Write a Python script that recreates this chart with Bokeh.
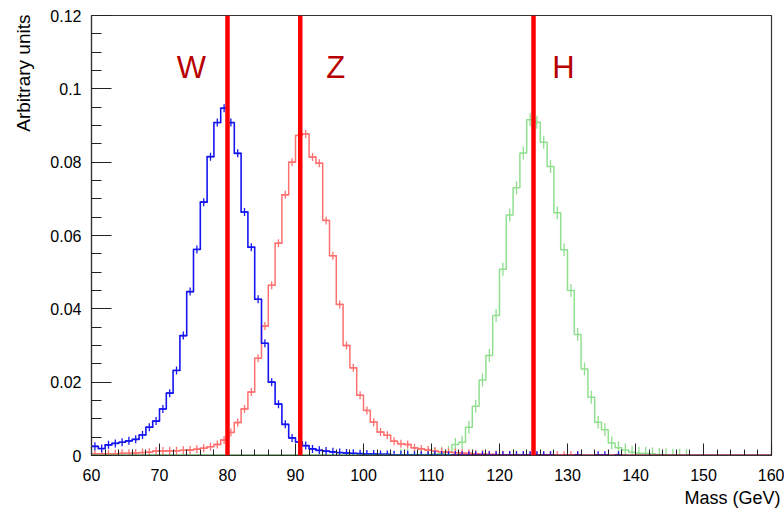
import math
from bokeh.plotting import figure
from bokeh.models import Range1d, FixedTicker, Span, Title
from bokeh.core.properties import value
from bokeh.embed import file_html
from bokeh.resources import INLINE

# ---------------- data ----------------
bin_edges = list(range(60, 161, 1))          # 1 GeV bins, 60..160

w_vals = [
    0.0025, 0.0019, 0.0029, 0.0033, 0.0036, 0.0040, 0.0044, 0.0056, 0.0077, 0.0094,  # 60-69
    0.0127, 0.0170, 0.0232, 0.0327, 0.0447, 0.0562, 0.0691, 0.0815, 0.0908, 0.0947,  # 70-79
    0.0908, 0.0824, 0.0664, 0.0568, 0.0426, 0.0306, 0.0200, 0.0140, 0.0085, 0.0048,  # 80-89
    0.0037, 0.0027, 0.0018, 0.0014, 0.0012, 0.0010, 0.0008, 0.0007, 0.0006, 0.0005,  # 90-99
    0.0004, 0.0004, 0.0003, 0.0003, 0.0002, 0.0002, 0.0002, 0.0001, 0.0001, 0.0001,  # 100-109
    0.0002, 0.0001, 0.0001, 0.0001, 0.0001, 0.0001, 0.0001, 0.0001, 0.0001, 0.0001,  # 110-119
    0.0001, 0.0001, 0.0001, 0.0001, 0.0001, 0.0001, 0.0001, 0.0001, 0.0000, 0.0000,  # 120-129
    0.0000, 0.0001, 0.0000, 0.0000, 0.0001, 0.0001, 0.0000, 0.0001, 0.0000, 0.0000,  # 130-139
    0.0000, 0.0000, 0.0000, 0.0000, 0.0000, 0.0000, 0.0000, 0.0000, 0.0000, 0.0000,  # 140-149
    0.0000, 0.0000, 0.0000, 0.0000, 0.0000, 0.0000, 0.0000, 0.0000, 0.0000, 0.0000,  # 150-159
]

z_vals = [
    0.0005, 0.0005, 0.0005, 0.0005, 0.0006, 0.0006, 0.0007, 0.0008, 0.0009, 0.0012,  # 60-69
    0.0012, 0.0013, 0.0013, 0.0014, 0.0015, 0.0017, 0.0020, 0.0024, 0.0030, 0.0042,  # 70-79
    0.0063, 0.0090, 0.0127, 0.0173, 0.0265, 0.0353, 0.0464, 0.0579, 0.0711, 0.0800,  # 80-89
    0.0873, 0.0877, 0.0814, 0.0797, 0.0641, 0.0545, 0.0412, 0.0300, 0.0239, 0.0164,  # 90-99
    0.0123, 0.0091, 0.0064, 0.0055, 0.0039, 0.0032, 0.0030, 0.0021, 0.0018, 0.0015,  # 100-109
    0.0012, 0.0010, 0.0009, 0.0008, 0.0007, 0.0006, 0.0005, 0.0004, 0.0003, 0.0003,  # 110-119
    0.0002, 0.0002, 0.0002, 0.0001, 0.0001, 0.0001, 0.0001, 0.0001, 0.0001, 0.0001,  # 120-129
    0.0001, 0.0001, 0.0000, 0.0000, 0.0000, 0.0000, 0.0000, 0.0000, 0.0000, 0.0000,  # 130-139
    0.0000, 0.0000, 0.0000, 0.0000, 0.0000, 0.0000, 0.0000, 0.0000, 0.0000, 0.0000,  # 140-149
    0.0000, 0.0000, 0.0000, 0.0000, 0.0000, 0.0000, 0.0000, 0.0000, 0.0000, 0.0000,  # 150-159
]

h_vals = [
    0.0000, 0.0000, 0.0000, 0.0000, 0.0000, 0.0000, 0.0000, 0.0000, 0.0000, 0.0000,  # 60-69
    0.0000, 0.0000, 0.0000, 0.0000, 0.0000, 0.0000, 0.0000, 0.0000, 0.0000, 0.0000,  # 70-79
    0.0000, 0.0000, 0.0000, 0.0000, 0.0000, 0.0000, 0.0000, 0.0000, 0.0000, 0.0000,  # 80-89
    0.0000, 0.0000, 0.0000, 0.0000, 0.0000, 0.0000, 0.0000, 0.0000, 0.0000, 0.0000,  # 90-99
    0.0000, 0.0000, 0.0000, 0.0000, 0.0000, 0.0001, 0.0001, 0.0002, 0.0002, 0.0003,  # 100-109
    0.0004, 0.0006, 0.0009, 0.0030, 0.0036, 0.0077, 0.0134, 0.0206, 0.0273, 0.0382,  # 110-119
    0.0508, 0.0656, 0.0730, 0.0825, 0.0916, 0.0909, 0.0854, 0.0788, 0.0662, 0.0561,  # 120-129
    0.0450, 0.0330, 0.0236, 0.0159, 0.0091, 0.0070, 0.0034, 0.0021, 0.0015, 0.0009,  # 130-139
    0.0006, 0.0006, 0.0005, 0.0003, 0.0002, 0.0001, 0.0001, 0.0001, 0.0000, 0.0000,  # 140-149
    0.0000, 0.0000, 0.0000, 0.0000, 0.0000, 0.0000, 0.0000, 0.0000, 0.0000, 0.0000,  # 150-159
]

# empty (zero) histograms lying on the axis
bkg_green_edges = [60, 113]
bkg_red_edges = [113, 160]
bkg_level = [0.0, 0.0]

masses = [80.0, 90.7, 125.0]
mass_names = ["W", "Z", "H"]

x_ticks = [60, 70, 80, 90, 100, 110, 120, 130, 140, 150, 160]
x_tick_labels = ["60", "70", "80", "90", "100", "110", "120", "130", "140", "150", "160"]
y_ticks = [0, 0.02, 0.04, 0.06, 0.08, 0.1, 0.12]
y_tick_labels = ["0", "0.02", "0.04", "0.06", "0.08", "0.1", "0.12"]

x_title = "Mass (GeV)"
y_title = "Arbitrary units"

# ---------------- layout / style ----------------
FONT = "Liberation Sans"
name_x = [74.7, 95.9, 129.4]
name_y = 0.1058

p = figure(width=784, height=509,
           x_range=Range1d(60, 160), y_range=Range1d(0, 0.12),
           output_backend="svg", toolbar_location=None,
           min_border_left=91, min_border_right=13,
           min_border_top=15, min_border_bottom=54)
p.xgrid.visible = False
p.ygrid.visible = False
p.background_fill_color = "white"
p.border_fill_color = "white"
p.outline_line_color = "#333333"
p.outline_line_width = 1.2

centers = [e + 0.5 for e in bin_edges[:-1]]

def hist(vals, color, width, mk_size, mk):
    p.step(x=bin_edges, y=list(vals) + [vals[-1]], mode="after",
           line_color=color, line_width=width)
    cx = [c for c, v in zip(centers, vals) if v > 0]
    cy = [v for v in vals if v > 0]
    if mk == "cross":
        p.scatter(x=cx, y=cy, marker="cross", size=mk_size,
                  line_color=color, line_width=1.3)
    else:
        p.scatter(x=cx, y=cy, marker="dash", angle=math.pi / 2, size=mk_size,
                  line_color=color, line_width=1.3)

hist(h_vals, "#8fdf8f", 1.5, 13, "dash")
hist(z_vals, "#ff7070", 1.5, 8, "cross")
hist(w_vals, "#1515f0", 1.6, 8, "cross")

p.line(x=bkg_green_edges, y=bkg_level, line_color="#2a8a2a", line_width=1.8)
p.line(x=bkg_red_edges, y=bkg_level, line_color="#9a1010", line_width=1.8)

for m in masses:
    p.add_layout(Span(location=m, dimension="height",
                      line_color="#ff0000", line_width=4.5))

p.text(x=name_x, y=[name_y] * len(mass_names), text=mass_names,
       text_font=value(FONT), text_font_size="31px", text_color="#b80000",
       text_align="center", text_baseline="middle")

# axes
for ax in (p.xaxis[0], p.yaxis[0]):
    ax.axis_line_color = "#333333"
    ax.axis_line_width = 1.2
    ax.major_tick_line_color = "#222222"
    ax.minor_tick_line_color = "#222222"
    ax.major_tick_out = 0
    ax.minor_tick_out = 0
    ax.major_label_text_font = FONT
    ax.major_label_text_font_size = "16px"
    ax.major_label_text_color = "black"

p.xaxis.ticker = FixedTicker(ticks=x_ticks, minor_ticks=list(range(60, 161, 2)))
p.xaxis.major_label_overrides = dict(zip(x_ticks, x_tick_labels))
p.xaxis.major_tick_in = 12
p.xaxis.minor_tick_in = 6
p.xaxis.major_label_standoff = 13

p.yaxis.ticker = FixedTicker(ticks=y_ticks, minor_ticks=[i * 0.005 for i in range(25)])
p.yaxis.major_label_overrides = dict(zip(y_ticks, y_tick_labels))
p.yaxis.major_tick_in = 20
p.yaxis.minor_tick_in = 10
p.yaxis.major_label_standoff = 10

p.add_layout(Title(text=y_title, align="right", offset=-1, standoff=23,
                   vertical_align="top",
                   text_font=FONT, text_font_size="19px",
                   text_font_style="normal", text_color="black"), "left")
p.add_layout(Title(text=x_title, align="right", offset=-9, standoff=4,
                   text_font=FONT, text_font_size="18px",
                   text_font_style="normal", text_color="black"), "below")

open("out.html", "w").write(file_html(p, INLINE))
